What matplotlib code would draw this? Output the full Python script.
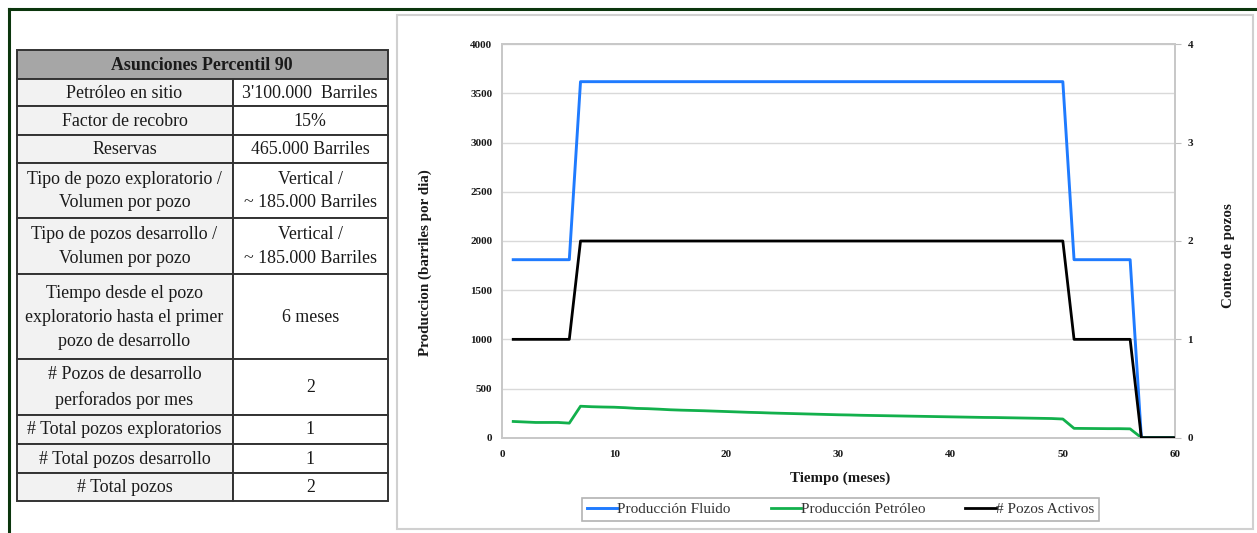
import matplotlib
matplotlib.use("Agg")
import matplotlib.pyplot as plt
from matplotlib.patches import Rectangle
from matplotlib.lines import Line2D

# ---- data -----------------------------------------------------------
months = list(range(1, 61))

fluid_prod = [1810] * 6 + [3620] * 44 + [1810] * 6 + [0] * 4

oil_prod = [165, 160, 155, 155, 155, 148,
            320, 315, 312, 310, 305, 298, 295, 290, 284, 280,
            277, 274, 270, 266, 262, 258, 255, 251, 248, 245,
            242, 239, 236, 233, 231, 228, 226, 224, 222, 220,
            218, 216, 214, 212, 210, 208, 206, 205, 203, 201,
            199, 197, 195, 190,
            95, 94, 93, 92, 92, 90,
            0, 0, 0, 0]

active_wells = [1] * 6 + [2] * 44 + [1] * 6 + [0] * 4

series_labels = ["Producción Fluido", "Producción Petróleo", "# Pozos Activos"]

table_title = "Asunciones Percentil 90"
table_params = ["Petróleo en sitio", "Factor de recobro", "Reservas",
                "Tipo de pozo exploratorio /\nVolumen por pozo",
                "Tipo de pozos desarrollo /\nVolumen por pozo",
                "Tiempo desde el pozo\nexploratorio hasta el primer\npozo de desarrollo",
                "# Pozos de desarrollo\nperforados por mes",
                "# Total pozos exploratorios", "# Total pozos desarrollo",
                "# Total pozos"]
table_values = ["3'100.000  Barriles", "15%", "465.000 Barriles",
                "Vertical /\n~ 185.000 Barriles",
                "Vertical /\n~ 185.000 Barriles",
                "6 meses", "2", "1", "1", "2"]

# ---- figure ---------------------------------------------------------
W, H = 1257, 533
fig = plt.figure(figsize=(W / 100, H / 100), dpi=100)
plt.rcParams["font.family"] = ["Liberation Serif", "DejaVu Serif"]

# full-figure overlay in pixel coordinates for frames and the table
bg = fig.add_axes([0, 0, 1, 1])
bg.set_xlim(0, W)
bg.set_ylim(H, 0)
bg.axis("off")

green = "#0b360d"
bg.add_line(Line2D([8.5, W], [8.5, 8.5], color=green, lw=2.2))
bg.add_line(Line2D([8.5, 8.5], [8.5, H], color=green, lw=2.2))

# chart panel border
bg.add_patch(Rectangle((397, 15), 1253 - 397, 529 - 15, fill=False,
                       ec="#d0d0d0", lw=1.5))

# table
x0, xm, x1 = 16.5, 232.5, 388
row_edges = [50, 79, 106, 134.5, 162.5, 217.5, 274, 358.5, 414.5, 443.5, 472.5, 501]
border = "#333333"
fs_tab = 12.9

bg.add_patch(Rectangle((x0, row_edges[0]), x1 - x0, row_edges[1] - row_edges[0],
                       fc="#a6a6a6", ec=border, lw=1.4))
bg.text((x0 + x1) / 2, (row_edges[0] + row_edges[1]) / 2 + 1, table_title,
        ha="center", va="center", fontsize=fs_tab, fontweight="bold", color="#1a1a1a")

for i, (p, v) in enumerate(zip(table_params, table_values)):
    ya, yb = row_edges[i + 1], row_edges[i + 2]
    bg.add_patch(Rectangle((x0, ya), xm - x0, yb - ya, fc="#f2f2f2", ec=border, lw=1.4))
    bg.add_patch(Rectangle((xm, ya), x1 - xm, yb - ya, fc="white", ec=border, lw=1.4))
    yc = (ya + yb) / 2 + 1
    bg.text((x0 + xm) / 2, yc, p, ha="center", va="center", fontsize=fs_tab,
            color="#1a1a1a", linespacing=1.52)
    bg.text((xm + x1) / 2, yc, v, ha="center", va="center", fontsize=fs_tab,
            color="#1a1a1a", linespacing=1.52)

# ---- chart ----------------------------------------------------------
L, R, T, B = 502, 1175, 44.3, 437.7
ax = fig.add_axes([L / W, (H - B) / H, (R - L) / W, (B - T) / H])
ax2 = ax.twinx()

c_fluid = "#1f7bff"
c_oil = "#12b04c"
c_wells = "#000000"

l1, = ax.plot(months, fluid_prod, color=c_fluid, lw=2.1, zorder=3)
l2, = ax.plot(months, oil_prod, color=c_oil, lw=2.0, zorder=3)
l3, = ax2.plot(months, active_wells, color=c_wells, lw=2.0, zorder=4)

ax.set_xlim(0, 60)
ax.set_ylim(0, 4000)
ax2.set_ylim(0, 4)
ax.set_xticks(range(0, 61, 10))
ax.set_yticks(range(0, 4001, 500))
ax2.set_yticks(range(0, 5))

ax.grid(axis="y", color="#d9d9d9", lw=1.0)
ax.set_axisbelow(True)

for lab in ax.get_xticklabels() + ax.get_yticklabels() + ax2.get_yticklabels():
    lab.set_fontweight("bold")
ax.tick_params(axis="y", length=0, pad=7, labelsize=8, colors="#1a1a1a")
ax.tick_params(axis="x", length=0, pad=9, labelsize=8, colors="#1a1a1a")
ax2.tick_params(axis="y", length=4, pad=5, labelsize=8, colors="#1a1a1a",
                color="#bfbfbf")

for a in (ax, ax2):
    for s in a.spines.values():
        s.set_color("#c8c8c8")
        s.set_linewidth(1.3)

ax.set_xlabel("Tiempo (meses)", fontsize=10.8, fontweight="bold", color="#1a1a1a")
ax.xaxis.set_label_coords(0.502, -0.087)
ax.set_ylabel("Produccion (barriles por dia)", fontsize=10.8, fontweight="bold",
              color="#1a1a1a")
ax.yaxis.set_label_coords(-0.104, 0.445)
ax2.set_ylabel("Conteo de pozos", fontsize=10.8, fontweight="bold", color="#1a1a1a")
ax2.yaxis.set_label_coords(1.070, 0.463)

leg = fig.legend([l1, l2, l3], series_labels, loc="center", ncol=3,
                 bbox_to_anchor=(840.5 / W, (H - 509.5) / H),
                 fontsize=11, frameon=True, fancybox=False,
                 handlelength=2.0, handletextpad=0.0, columnspacing=2.6,
                 borderpad=0.3)
leg.get_frame().set_edgecolor("#a0a0a0")
leg.get_frame().set_linewidth(1.2)
for t in leg.get_texts():
    t.set_color("#333333")

fig.savefig("out.png", dpi=100)
